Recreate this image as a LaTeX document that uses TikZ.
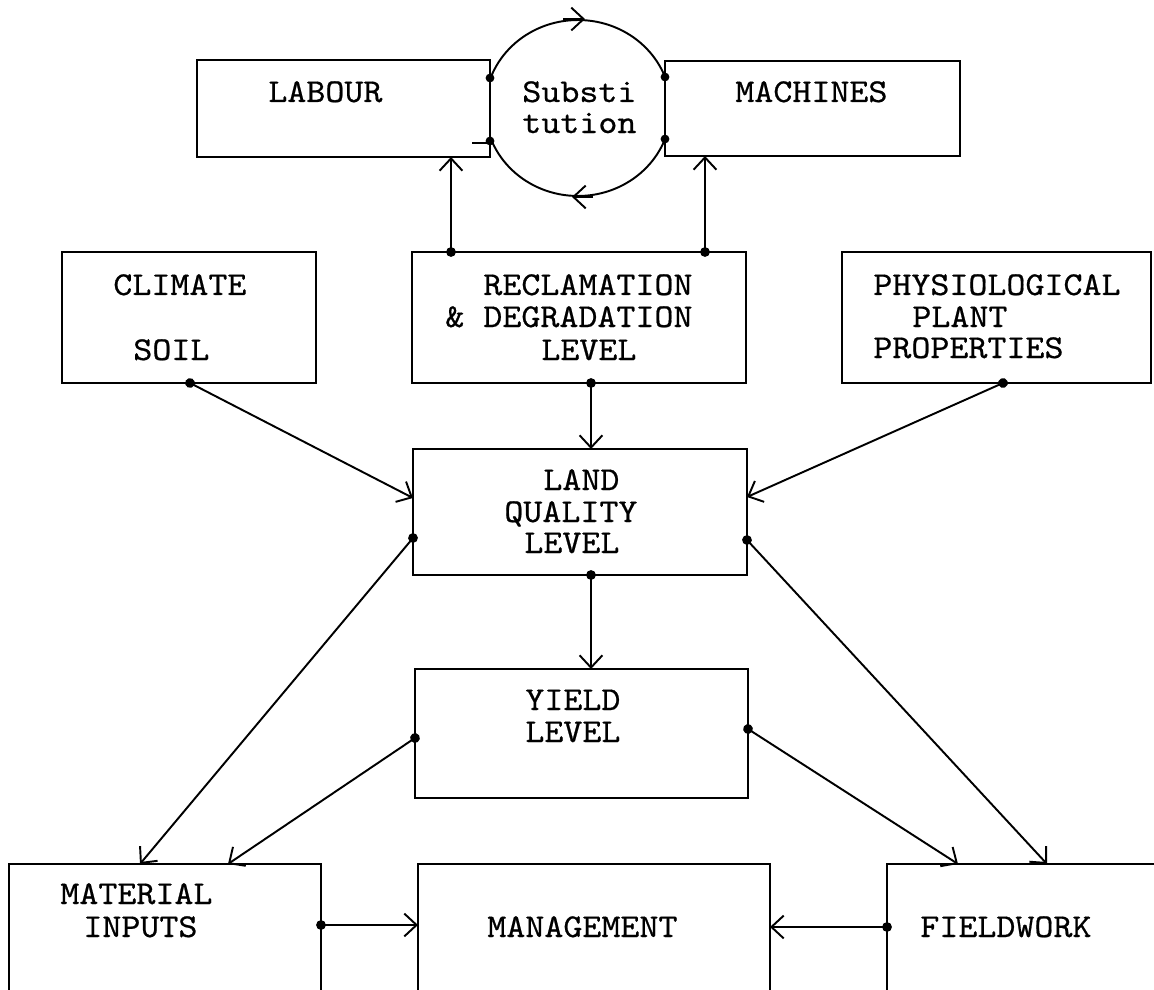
\documentclass[tikz,border=0pt]{standalone}
\usepackage{fontspec}
\newfontfamily\mytt{lmmono10-regular}[Extension=.otf, FakeStretch=1.085, FakeBold=0.6]
\usetikzlibrary{arrows.meta,calc,fit,shapes.geometric}
\begin{document}
\begin{tikzpicture}[x=0.02cm,y=-0.02cm,
  box/.style={draw, fill=white, line width=1.3pt, inner sep=0pt, outer sep=0pt},
  txt/.style={anchor=base west, inner sep=0pt, font=\mytt\fontsize{19}{19}\selectfont},
  con/.style={line width=1.1pt, {Circle[length=5.5pt]}-{Straight Barb[length=7pt,width=13pt]}, shorten <=-2.75pt},
  barb/.style={line width=1.1pt, -{Straight Barb[length=7pt,width=13pt]}},
  dot/.style={fill=black},
]
\clip (0,0) rectangle (1154,990);
% substitution circle
\node[draw, line width=1.1pt, ellipse, minimum width=3.72cm, minimum height=3.52cm, inner sep=0pt] (sub) at (578,108) {};
% boxes
\node[box, fit={(197,60) (490,157)}] (lab) {};
\node[box, fit={(665,61) (960,156)}] (mac) {};
\node[box, fit={(62,252) (316,383)}] (cli) {};
\node[box, fit={(412,252) (746,383)}] (rec) {};
\node[box, fit={(842,252) (1151,383)}] (phy) {};
\node[box, fit={(413,449) (747,575)}] (land) {};
\node[box, fit={(415,669) (748,798)}] (yld) {};
\node[box, fit={(9,864) (321,1010)}] (mat) {};
\node[box, fit={(418,864) (770,1010)}] (mng) {};
\node[box, fit={(887,864) (1175,1010)}] (fld) {};
% texts
\node[txt] (tlab) at (268,102) {LABOUR};
\node[txt] (tmac) at (735,102) {MACHINES};
\node[txt] (tsub1) at (522,102) {Substi};
\node[txt] (tsub2) at (522,133) {tution};
\node[txt] (tcli1) at (113,295) {CLIMATE};
\node[txt] (tcli2) at (133,360) {SOIL};
\node[txt] (trec1) at (483,295) {RECLAMATION};
\node[txt] (trec2) at (445,327) {\& DEGRADATION};
\node[txt] (trec3) at (541,360) {LEVEL};
\node[txt] (tphy1) at (873,295) {PHYSIOLOGICAL};
\node[txt] (tphy2) at (912,327) {PLANT};
\node[txt] (tphy3) at (873,358) {PROPERTIES};
\node[txt] (tland1) at (543,490) {LAND};
\node[txt] (tland2) at (504,522) {QUALITY};
\node[txt] (tland3) at (524,553) {LEVEL};
\node[txt] (tyld1) at (525,710) {YIELD};
\node[txt] (tyld2) at (525,742) {LEVEL};
\node[txt] (tmat1) at (60,904) {MATERIAL};
\node[txt] (tmat2) at (83,937) {INPUTS};
\node[txt] (tmng) at (487,937) {MANAGEMENT};
\node[txt] (tfld) at (920,937) {FIELDWORK};
% circle arrows and contact dots
\draw[barb] ([xshift=-0.3cm]sub.north) -- ([xshift=0.14cm]sub.north);
\draw[barb] ([xshift=0.3cm]sub.south) -- ([xshift=-0.12cm]sub.south);
\fill[dot] ($(lab.north east)+(0,18)$) circle (2.5pt);
\fill[dot] ($(lab.north east)+(0,81)$) circle (2.5pt);
\fill[dot] ($(mac.north west)+(0,16)$) circle (2.5pt);
\fill[dot] ($(mac.north west)+(0,78)$) circle (2.5pt);
\draw[line width=0.8pt] ($(lab.south east)+(-18,-14)$) -- ++(16,0);
% connectors
\coordinate (r1) at ($(rec.north west)+(39,0)$);
\coordinate (r2) at ($(rec.north west)+(293,0)$);
\coordinate (r3) at ($(rec.south west)+(179,0)$);
\coordinate (c1) at ($(cli.south west)+(128,0)$);
\coordinate (p1) at ($(phy.south west)+(161,0)$);
\coordinate (l1) at ($(land.north west)+(0,89)$);
\coordinate (l2) at ($(land.south west)+(178,0)$);
\coordinate (l3) at ($(land.north east)+(0,91)$);
\coordinate (y1) at ($(yld.north west)+(0,69)$);
\coordinate (y2) at ($(yld.north east)+(0,60)$);
\coordinate (m1) at ($(mat.north east)+(0,61)$);
\coordinate (f1) at ($(fld.north west)+(0,63)$);
\draw[con] (r1) -- (r1 |- lab.south);
\draw[con] (r2) -- (r2 |- mac.south);
\draw[con] (r3) -- (r3 |- land.north);
\draw[con] (c1) -- ($(land.north west)+(0,49)$);
\draw[con] (p1) -- ($(land.north east)+(0,48)$);
\draw[con] (l1) -- ($(mat.north west)+(131,0)$);
\draw[con] (l2) -- (l2 |- yld.north);
\draw[con] (l3) -- ($(fld.north west)+(160,0)$);
\draw[con] (y1) -- ($(mat.north west)+(219,0)$);
\draw[con] (y2) -- ($(fld.north west)+(71,0)$);
\draw[con] (m1) -- (m1 -| mng.west);
\draw[con] (f1) -- (f1 -| mng.east);
\end{tikzpicture}
\end{document}
